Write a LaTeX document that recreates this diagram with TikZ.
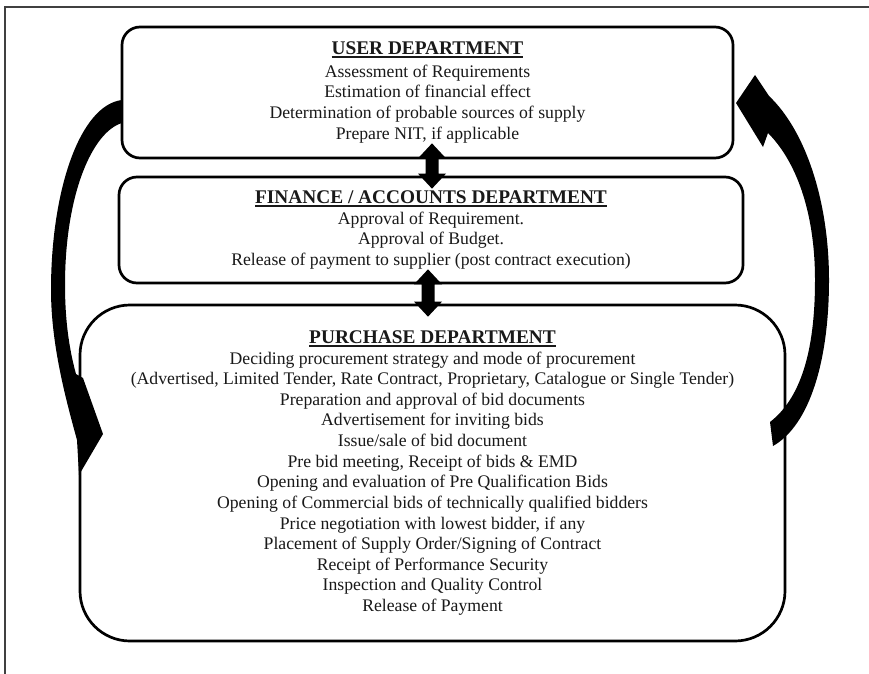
\documentclass[tikz,border=0pt]{standalone}
\usepackage{fontspec}
\setmainfont{Liberation Serif}
\usetikzlibrary{calc}
\newcommand\headul[1]{{\fontsize{16.5}{17.5}\selectfont\bfseries\setbox0\hbox{#1}\rlap{\rule[-2.6pt]{\wd0}{1.3pt}}\box0}}
\newcommand\dblarrow[2]{%
  \fill (#1) -- ++(14,15) -- ++(-7.5,0) -- ($(#2)+(6.5,-15)$) -- ++(7.5,0) -- (#2)
        -- ++(-14,-15) -- ++(7.5,0) -- ($(#1)+(-6.5,15)$) -- ++(-7.5,0) -- cycle;}
\tikzset{
  dept/.style={draw, line width=2.3pt, align=center, inner sep=0pt,
    font=\fontsize{15.1}{17.6}\selectfont, text=black!90},
  frameline/.style={draw=black!75, line width=1.1pt}
}
\begin{document}
\begin{tikzpicture}[x=0.03cm, y=-0.03cm]
\useasboundingbox (0,0) rectangle (869,674);
\fill[white] (0,0) rectangle (869,674);
% page frame
\draw[frameline] (5,674) -- (5,7) -- (869,7);

\node[dept, rounded corners=0.54cm, minimum width=611*0.03cm, minimum height=131*0.03cm]
  (user) at (427.5,92.5) {\headul{USER DEPARTMENT}\\[1.5pt]
  Assessment of Requirements\\
  Estimation of financial effect\\
  Determination of probable sources of supply\\
  Prepare NIT, if applicable};

\node[dept, rounded corners=0.54cm, minimum width=624*0.03cm, minimum height=106*0.03cm]
  (fin) at (431,230) {\headul{FINANCE / ACCOUNTS DEPARTMENT}\\
  Approval of Requirement.\\
  Approval of Budget.\\
  Release of payment to supplier (post contract execution)};

\node[dept, rounded corners=1.5cm, minimum width=705*0.03cm, minimum height=336*0.03cm]
  (pur) at (432.5,473) {\headul{PURCHASE DEPARTMENT}\\
  Deciding procurement strategy and mode of procurement\\
  (Advertised, Limited Tender, Rate Contract, Proprietary, Catalogue or Single Tender)\\
  Preparation and approval of bid documents\\
  Advertisement for inviting bids\\
  Issue/sale of bid document\\
  Pre bid meeting, Receipt of bids \& EMD\\
  Opening and evaluation of Pre Qualification Bids\\
  Opening of Commercial bids of technically qualified bidders\\
  Price negotiation with lowest bidder, if any\\
  Placement of Supply Order/Signing of Contract\\
  Receipt of Performance Security\\
  Inspection and Quality Control\\
  Release of Payment};

% double arrows between departments
\coordinate (a1) at ($(user.south)+(4.5,-16)$);
\coordinate (a2) at ($(fin.north)+(1,13)$);
\coordinate (b1) at ($(fin.south)+(-3,-15)$);
\coordinate (b2) at ($(pur.north)+(-4.5,13)$);
\dblarrow{a1}{a2}
\dblarrow{b1}{b2}

% left curved arrow: user -> purchase
\fill (122,100) .. controls (80,105) and (51,190) .. (51,290)
  .. controls (51,345) and (66,400) .. (77,440) -- (79,475) -- (103,434) -- (83,378)
  -- (76,374) .. controls (68,345) and (65,315) .. (65,285)
  .. controls (65,195) and (92,132) .. (122,123) -- cycle;

% right curved arrow: purchase -> user
\fill (770,422) .. controls (805,395) and (815,340) .. (815,280)
  .. controls (815,210) and (795,160) .. (768,133) -- (763,147) -- (736,103) -- (755,75)
  -- (769,96) .. controls (805,130) and (829,200) .. (829,280)
  .. controls (829,360) and (810,425) .. (773,446) -- cycle;
\end{tikzpicture}
\end{document}
